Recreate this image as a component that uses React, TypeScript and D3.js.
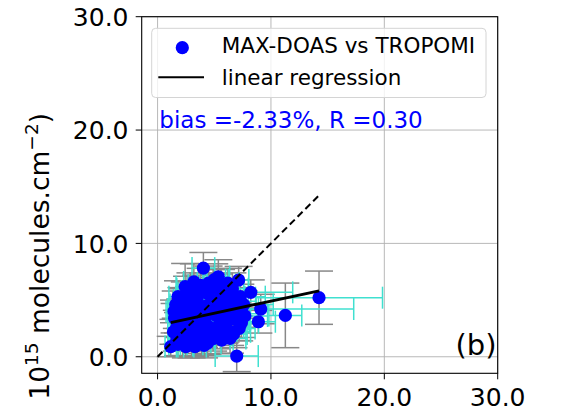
import React, { useEffect, useRef } from "react";
import * as d3 from "d3";

// MAX-DOAS (x) vs TROPOMI (y), in 10^15 molecules.cm^-2
const maxdoas = [
  1.16, 6.98, 4.04, 7.15, 8.22, 9.1, 8.89, 11.27, 14.24, 5.36, 2.43, 5.66, 6.39,
  1.4, 1.5, 1.6, 1.7, 1.8, 1.9, 1.45, 2.0, 1.7, 2.1, 1.8,
  2.2, 2.3, 2.4, 2.5, 2.6, 2.7, 2.8, 2.9, 2.2, 2.6, 3.0, 2.4, 2.9, 2.5,
  3.1, 3.2, 3.3, 3.4, 3.5, 3.6, 3.7, 3.8, 3.9, 3.2, 3.5, 3.9, 3.3, 3.7, 3.3,
  4.1, 4.2, 4.3, 4.4, 4.5, 4.6, 4.7, 4.8, 4.9, 4.0, 4.4, 4.6, 4.9, 4.2, 4.1,
  5.1, 5.2, 5.3, 5.4, 5.5, 5.6, 5.7, 5.8, 5.9, 5.0, 5.2, 5.5, 5.9,
  6.1, 6.2, 6.3, 6.4, 6.5, 6.6, 6.8, 6.9, 6.0, 6.7, 6.2,
  7.1, 7.3, 7.4, 7.6, 7.2, 7.7,
];
const tropomi = [
  0.9, 0.06, 7.82, 6.77, 5.68, 4.21, 3.09, 3.65, 5.21, 7.06, 6.18, 1.47, 1.62,
  2.2, 3.4, 4.6, 1.5, 5.3, 2.9, 4.0, 3.8, 2.6, 5.0, 1.1,
  1.3, 2.4, 3.2, 4.4, 5.6, 1.8, 3.7, 6.0, 4.8, 2.9, 1.1, 5.3, 4.1, 0.9,
  2.2, 3.5, 4.8, 5.8, 1.6, 2.8, 4.2, 6.3, 3.3, 6.6, 5.2, 1.3, 2.5, 3.8, 0.9,
  2.0, 3.1, 4.5, 5.6, 6.5, 2.6, 3.9, 5.0, 1.6, 6.0, 1.2, 4.3, 6.2, 3.6, 1.0,
  2.4, 3.6, 4.7, 5.9, 2.9, 6.4, 3.3, 4.1, 5.3, 6.8, 1.9, 4.9, 2.3,
  3.0, 4.4, 5.6, 2.2, 3.8, 6.0, 4.9, 3.3, 2.6, 2.0, 6.5,
  4.2, 5.3, 3.0, 4.6, 2.5, 3.6,
];
const maxdoasErr = [
  0.5, 1.9, 1.0, 0.9, 3.7, 8.2, 1.5, 1.45, 5.6, 1.0, 0.8, 1.0, 1.4,
  0.5, 0.6, 0.5, 0.7, 0.8, 0.6, 0.7, 0.9, 0.6, 0.7, 0.8,
  1.0, 0.7, 0.6, 1.1, 0.8, 0.6, 0.9, 1.2, 0.7, 1.4, 1.0, 0.8, 1.2, 0.7,
  0.8, 1.5, 1.0, 1.3, 0.8, 1.7, 1.0, 1.1, 1.4, 0.9, 1.2, 0.8, 0.6, 1.6, 1.0,
  1.2, 1.8, 1.0, 1.4, 1.0, 1.3, 2.1, 1.1, 1.5, 0.9, 1.2, 1.7, 1.2, 0.8, 1.0,
  1.4, 2.0, 1.2, 1.6, 1.0, 1.3, 2.3, 1.5, 1.8, 1.0, 1.3, 1.7, 1.1,
  2.0, 1.5, 1.3, 1.8, 2.5, 1.4, 1.9, 1.3, 1.6, 1.2, 1.0,
  1.8, 2.2, 1.5, 2.6, 1.4, 2.0,
];
const tropomiErr = [
  0.9, 1.37, 1.38, 1.2, 1.1, 1.3, 1.0, 2.85, 2.35, 1.5, 2.05, 1.2, 1.3,
  1.1, 1.3, 1.2, 1.0, 1.4, 1.2, 1.0, 1.3, 1.5, 1.1, 1.0,
  1.2, 1.4, 1.1, 1.3, 1.5, 1.0, 1.2, 1.4, 1.2, 1.1, 1.2, 1.3, 1.0, 1.0,
  1.3, 1.2, 1.1, 1.4, 1.3, 1.2, 1.0, 1.5, 1.3, 1.6, 1.1, 1.2, 1.4, 1.1, 0.9,
  1.2, 1.3, 1.1, 1.4, 1.5, 1.0, 1.3, 1.2, 1.1, 1.4, 1.0, 1.2, 1.5, 1.1, 1.1,
  1.2, 1.3, 1.1, 1.4, 1.0, 1.3, 1.2, 1.1, 1.3, 1.4, 1.2, 1.0, 1.1,
  1.2, 1.3, 1.1, 1.2, 1.0, 1.4, 1.2, 1.1, 1.3, 1.2, 1.3,
  1.2, 1.1, 1.3, 1.2, 1.1, 1.0,
];

// fitted line
const regSlope = 0.214;
const regIntercept = 2.77;

const ticks = [0, 10, 20, 30];
const legendLabels = ["MAX-DOAS vs TROPOMI", "linear regression"];
const statsText = "bias =-2.33%, R =0.30";
const panelLabel = "(b)";

const width = 562;
const height = 411;
const plot = { left: 141.7, right: 497.7, top: 16.7, bottom: 373.3 };
const FONT = "DejaVu Sans, sans-serif";

export default function App() {
  const ref = useRef<SVGSVGElement>(null);

  useEffect(() => {
    const svg = d3.select(ref.current);
    svg.selectAll("*").remove();

    const x = d3.scaleLinear().domain([-1.4, 30]).range([plot.left, plot.right]);
    const y = d3.scaleLinear().domain([-1.46, 30]).range([plot.bottom, plot.top]);
    const pts = maxdoas.map((v, i) => ({
      x: v,
      y: tropomi[i],
      xe: maxdoasErr[i],
      ye: tropomiErr[i],
    }));

    // grid
    const grid = svg.append("g").attr("stroke", "#b0b0b0").attr("stroke-width", 0.9);
    ticks.forEach((t) => {
      grid.append("line").attr("x1", x(t)).attr("x2", x(t)).attr("y1", plot.top).attr("y2", plot.bottom);
      grid.append("line").attr("x1", plot.left).attr("x2", plot.right).attr("y1", y(t)).attr("y2", y(t));
    });

    // y errors (grey)
    const capY = 14;
    const gErr = svg.append("g").attr("stroke", "#888888").attr("stroke-width", 1.5);
    pts.forEach((d) => {
      gErr.append("line").attr("x1", x(d.x)).attr("x2", x(d.x)).attr("y1", y(d.y - d.ye)).attr("y2", y(d.y + d.ye));
      [d.y - d.ye, d.y + d.ye].forEach((v) =>
        gErr.append("line").attr("x1", x(d.x) - capY).attr("x2", x(d.x) + capY).attr("y1", y(v)).attr("y2", y(v))
      );
    });

    // x errors (turquoise)
    const capX = 11;
    const cErr = svg.append("g").attr("stroke", "#40e0d0").attr("stroke-width", 1.5);
    pts.forEach((d) => {
      cErr.append("line").attr("x1", x(d.x - d.xe)).attr("x2", x(d.x + d.xe)).attr("y1", y(d.y)).attr("y2", y(d.y));
      [d.x - d.xe, d.x + d.xe].forEach((v) =>
        cErr.append("line").attr("x1", x(v)).attr("x2", x(v)).attr("y1", y(d.y) - capX).attr("y2", y(d.y) + capX)
      );
    });

    // points
    svg
      .append("g")
      .selectAll("circle")
      .data(pts)
      .join("circle")
      .attr("cx", (d) => x(d.x))
      .attr("cy", (d) => y(d.y))
      .attr("r", 6.6)
      .attr("fill", "#0000ff");

    const [xMin, xMax] = d3.extent(maxdoas) as [number, number];
    const line = d3
      .line<[number, number]>()
      .x((d) => x(d[0]))
      .y((d) => y(d[1]));

    // 1:1 line
    svg
      .append("path")
      .attr("d", line([[0, 0], [xMax, xMax]]))
      .attr("stroke", "#000")
      .attr("stroke-width", 2)
      .attr("stroke-dasharray", "7,4")
      .attr("fill", "none");

    // regression
    svg
      .append("path")
      .attr("d", line([[xMin, regSlope * xMin + regIntercept], [xMax, regSlope * xMax + regIntercept]]))
      .attr("stroke", "#000")
      .attr("stroke-width", 2.8)
      .attr("fill", "none");

    // spines
    svg
      .append("rect")
      .attr("x", plot.left)
      .attr("y", plot.top)
      .attr("width", plot.right - plot.left)
      .attr("height", plot.bottom - plot.top)
      .attr("fill", "none")
      .attr("stroke", "#000")
      .attr("stroke-width", 1.1);

    // ticks + labels
    const fmt = d3.format(".1f");
    const axes = svg.append("g").attr("font-family", FONT).attr("font-size", 25).attr("fill", "#000");
    ticks.forEach((t) => {
      axes.append("line").attr("x1", x(t)).attr("x2", x(t)).attr("y1", plot.bottom).attr("y2", plot.bottom + 6).attr("stroke", "#000");
      axes.append("text").attr("x", x(t)).attr("y", 405.5).attr("text-anchor", "middle").text(fmt(t));
      axes.append("line").attr("x1", plot.left - 6).attr("x2", plot.left).attr("y1", y(t)).attr("y2", y(t)).attr("stroke", "#000");
      axes.append("text").attr("x", 128.5).attr("y", y(t) + 9.3).attr("text-anchor", "end").text(fmt(t));
    });

    // y label (rotated, partly off-canvas as in the source)
    const yl = svg
      .append("text")
      .attr("transform", "translate(49,113) rotate(-90)")
      .attr("text-anchor", "end")
      .attr("font-family", FONT)
      .attr("font-size", 26.5)
      .attr("fill", "#000");
    yl.append("tspan").text("TROPOMI NO\u2082 VCD (\u00d7 10");
    yl.append("tspan").attr("font-size", 18.5).attr("dy", -11).text("15");
    yl.append("tspan").attr("dy", 11).text(" molecules.cm");
    yl.append("tspan").attr("font-size", 18.5).attr("dy", -11).text("\u22122");
    yl.append("tspan").attr("dy", 11).text(")");

    // legend
    const lg = svg.append("g").attr("font-family", FONT).attr("font-size", 21.5);
    lg.append("rect")
      .attr("x", 151.7)
      .attr("y", 28.3)
      .attr("width", 486 - 151.7)
      .attr("height", 97.5 - 28.3)
      .attr("rx", 4)
      .attr("fill", "#fff")
      .attr("fill-opacity", 0.8)
      .attr("stroke", "#d4d4d4")
      .attr("stroke-width", 1);
    lg.append("circle").attr("cx", 182.3).attr("cy", 47.7).attr("r", 6.6).attr("fill", "#0000ff");
    lg.append("line").attr("x1", 158.3).attr("x2", 204).attr("y1", 77.3).attr("y2", 77.3).attr("stroke", "#000").attr("stroke-width", 2);
    lg.append("text").attr("x", 221.7).attr("y", 53.3).text(legendLabels[0]);
    lg.append("text").attr("x", 221.7).attr("y", 85).text(legendLabels[1]);

    svg
      .append("text")
      .attr("x", 159.3)
      .attr("y", 128.3)
      .attr("font-family", FONT)
      .attr("font-size", 23)
      .attr("fill", "#0000ff")
      .text(statsText);

    svg
      .append("text")
      .attr("x", 496.5)
      .attr("y", 355)
      .attr("text-anchor", "end")
      .attr("font-family", FONT)
      .attr("font-size", 29)
      .attr("fill", "#000")
      .text(panelLabel);
  }, []);

  return (
    <div>
      <style>{`body{margin:0}`}</style>
      <svg ref={ref} width={width} height={height} style={{ display: "block", background: "#fff" }} />
    </div>
  );
}
